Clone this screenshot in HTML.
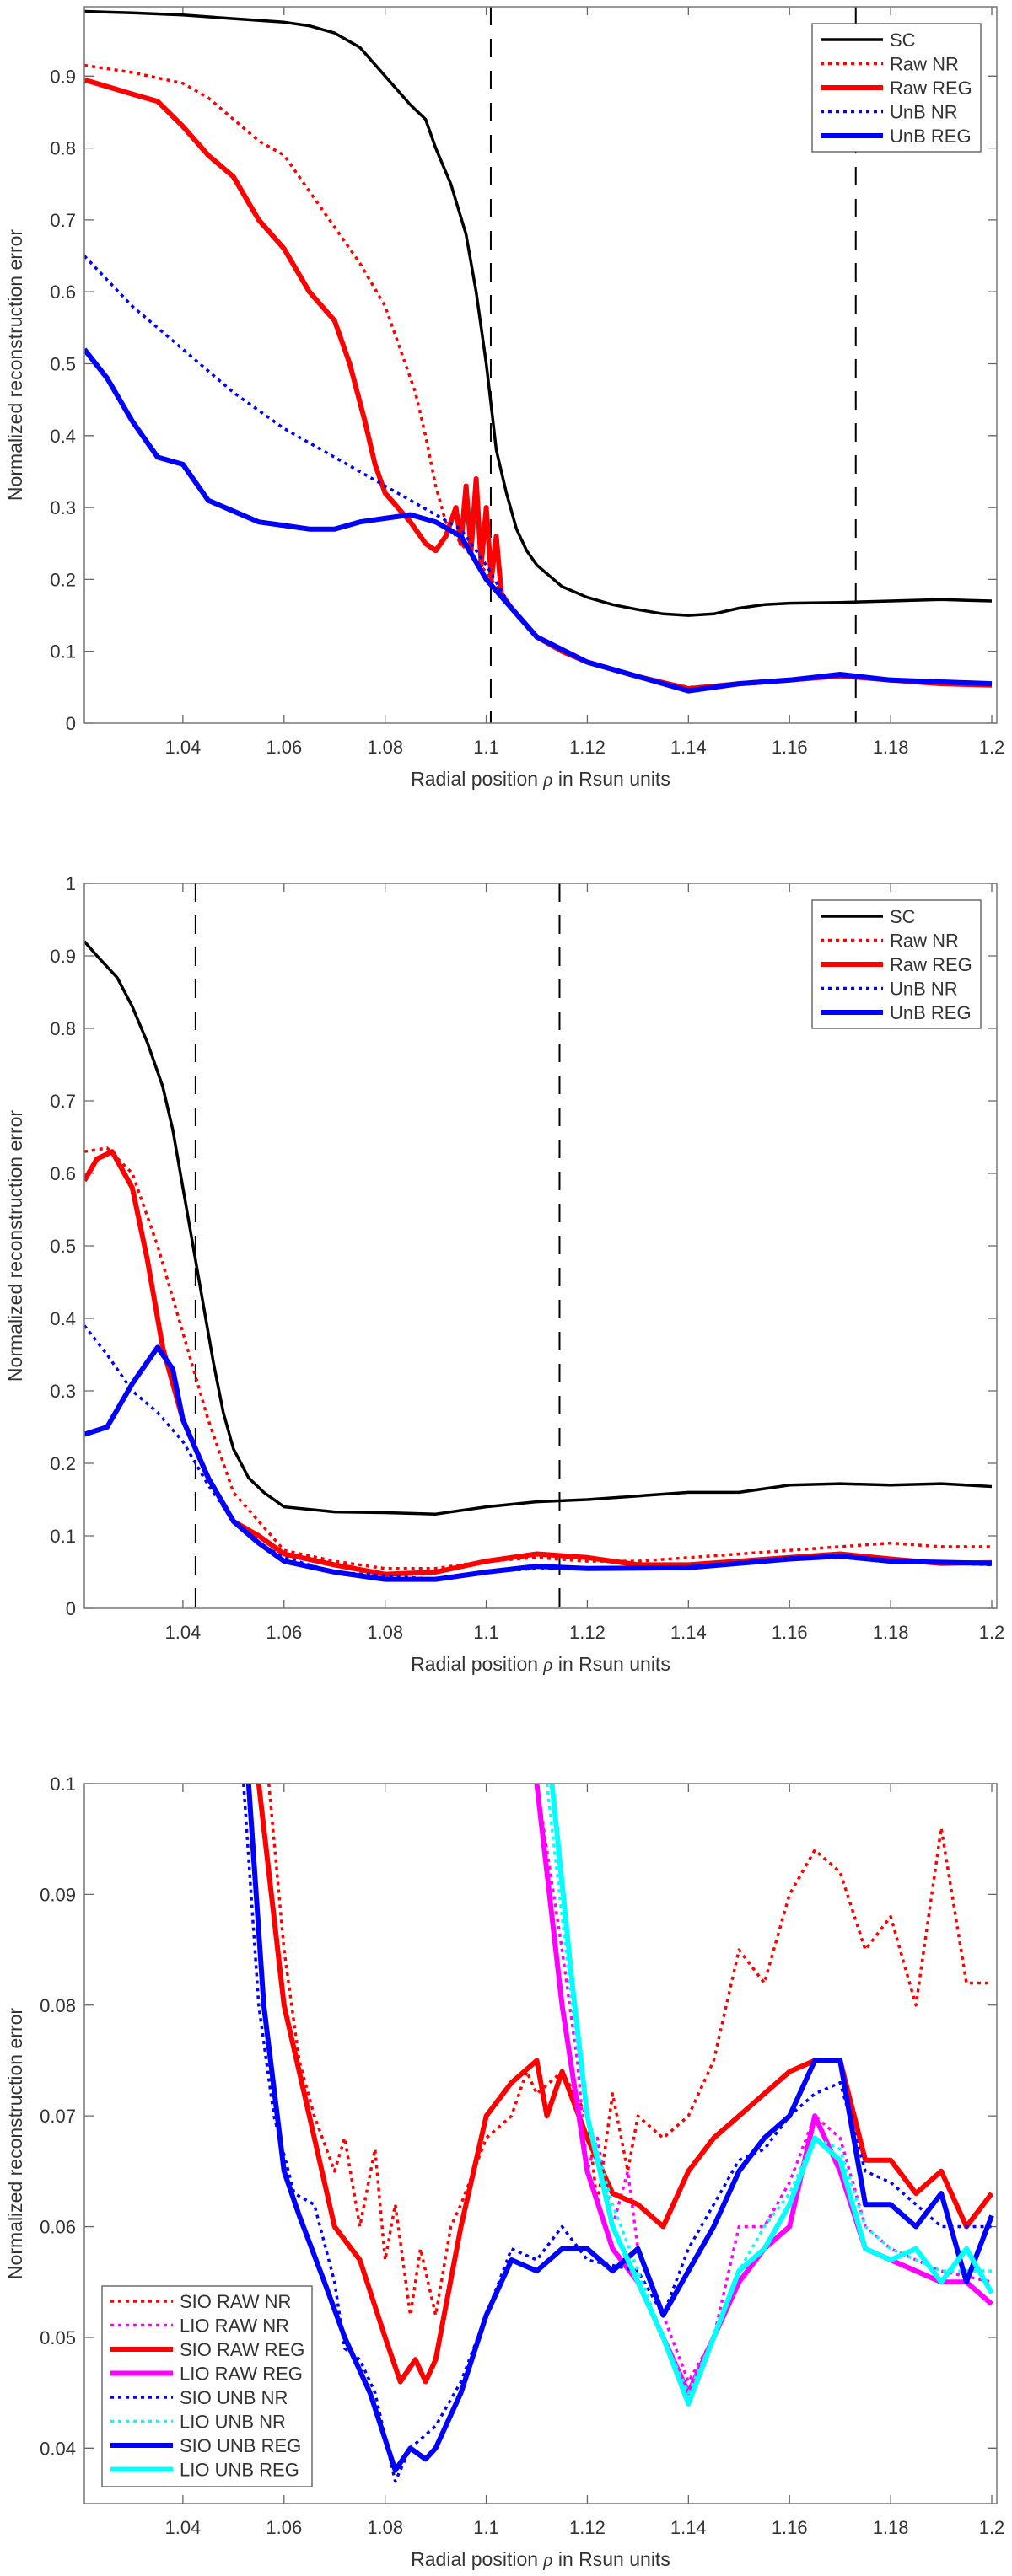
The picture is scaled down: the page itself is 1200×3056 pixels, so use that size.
<!DOCTYPE html>
<html><head><meta charset="utf-8">
<style>
html,body{margin:0;padding:0;background:#fff;}
svg{display:block;}
text{font-family:"Liberation Sans",Arial,sans-serif;fill:#333;}
</style></head>
<body>
<svg id="fig" width="1200" height="3056" viewBox="0 0 1200 3056" xmlns="http://www.w3.org/2000/svg"></svg>
<script>
// ---------- shared axis ----------
const xTicks = [1.04,1.06,1.08,1.1,1.12,1.14,1.16,1.18,1.2];
const xTickLabels = ["1.04","1.06","1.08","1.1","1.12","1.14","1.16","1.18","1.2"];
const xMin = 1.0205, xMax = 1.201;

// ---------- panel 1 data ----------
const p1Yticks = [0,0.1,0.2,0.3,0.4,0.5,0.6,0.7,0.8,0.9];
const p1Ylabels = ["0","0.1","0.2","0.3","0.4","0.5","0.6","0.7","0.8","0.9"];
const p1Vlines = [1.1009, 1.1731];
const p1_sc_x = [1.0205,1.03,1.04,1.05,1.06,1.065,1.07,1.075,1.08,1.085,1.088,1.09,1.093,1.096,1.098,1.1,1.101,1.102,1.104,1.106,1.108,1.11,1.115,1.12,1.125,1.13,1.135,1.14,1.145,1.15,1.155,1.16,1.17,1.18,1.19,1.2];
const p1_sc_y = [0.99,0.988,0.985,0.98,0.975,0.97,0.96,0.94,0.9,0.86,0.84,0.8,0.75,0.68,0.6,0.5,0.44,0.38,0.32,0.27,0.24,0.22,0.19,0.175,0.165,0.158,0.152,0.15,0.152,0.16,0.165,0.167,0.168,0.17,0.172,0.17];
const p1_rawnr_x = [1.0205,1.03,1.04,1.045,1.05,1.055,1.06,1.065,1.07,1.075,1.08,1.083,1.086,1.088,1.09,1.092,1.095,1.1,1.103,1.106,1.11,1.115,1.12,1.13,1.14,1.15,1.16,1.17,1.18,1.19,1.2];
const p1_rawnr_y = [0.915,0.905,0.89,0.87,0.84,0.81,0.79,0.74,0.69,0.64,0.58,0.52,0.46,0.4,0.33,0.28,0.25,0.21,0.18,0.15,0.12,0.1,0.085,0.065,0.05,0.055,0.06,0.066,0.06,0.055,0.052];
const p1_rawreg_x = [1.0205,1.03,1.035,1.04,1.045,1.05,1.055,1.06,1.065,1.07,1.073,1.076,1.078,1.08,1.085,1.088,1.09,1.092,1.094,1.095,1.096,1.097,1.098,1.099,1.1,1.101,1.102,1.103,1.105,1.11,1.115,1.12,1.13,1.14,1.15,1.16,1.17,1.18,1.19,1.2];
const p1_rawreg_y = [0.895,0.875,0.865,0.83,0.79,0.76,0.7,0.66,0.6,0.56,0.5,0.42,0.36,0.32,0.28,0.25,0.24,0.26,0.3,0.25,0.33,0.24,0.34,0.22,0.3,0.2,0.26,0.18,0.16,0.12,0.1,0.085,0.065,0.048,0.055,0.06,0.066,0.06,0.055,0.053];
const p1_unbnr_x = [1.0205,1.03,1.04,1.05,1.06,1.07,1.08,1.09,1.095,1.1,1.105,1.11,1.12,1.13,1.14,1.15,1.16,1.17,1.18,1.2];
const p1_unbnr_y = [0.65,0.58,0.52,0.46,0.41,0.37,0.33,0.29,0.27,0.22,0.16,0.12,0.085,0.065,0.046,0.055,0.06,0.066,0.06,0.055];
const p1_unbreg_x = [1.0205,1.025,1.03,1.035,1.04,1.045,1.05,1.055,1.06,1.065,1.07,1.075,1.08,1.085,1.09,1.095,1.1,1.105,1.11,1.12,1.13,1.14,1.15,1.16,1.17,1.18,1.2];
const p1_unbreg_y = [0.52,0.48,0.42,0.37,0.36,0.31,0.295,0.28,0.275,0.27,0.27,0.28,0.285,0.29,0.28,0.26,0.2,0.16,0.12,0.085,0.065,0.045,0.055,0.06,0.068,0.06,0.055];

// ---------- panel 2 data ----------
const p2Yticks = [0,0.1,0.2,0.3,0.4,0.5,0.6,0.7,0.8,0.9,1];
const p2Ylabels = ["0","0.1","0.2","0.3","0.4","0.5","0.6","0.7","0.8","0.9","1"];
const p2Vlines = [1.0425, 1.1145];
const p2_sc_x = [1.0205,1.023,1.027,1.03,1.033,1.036,1.038,1.04,1.042,1.044,1.046,1.048,1.05,1.053,1.056,1.06,1.07,1.08,1.09,1.1,1.11,1.12,1.13,1.14,1.15,1.16,1.17,1.18,1.19,1.2];
const p2_sc_y = [0.92,0.9,0.87,0.83,0.78,0.72,0.66,0.58,0.5,0.42,0.34,0.27,0.22,0.18,0.16,0.14,0.133,0.132,0.13,0.14,0.147,0.15,0.155,0.16,0.16,0.17,0.172,0.17,0.172,0.168];
const p2_rawnr_x = [1.0205,1.025,1.03,1.035,1.04,1.045,1.05,1.055,1.06,1.07,1.08,1.09,1.1,1.11,1.12,1.13,1.14,1.15,1.16,1.17,1.18,1.19,1.2];
const p2_rawnr_y = [0.63,0.635,0.6,0.5,0.38,0.26,0.16,0.12,0.08,0.065,0.055,0.055,0.065,0.07,0.065,0.065,0.07,0.075,0.08,0.085,0.09,0.085,0.085];
const p2_rawreg_x = [1.0205,1.023,1.026,1.03,1.033,1.036,1.04,1.045,1.05,1.055,1.06,1.07,1.08,1.09,1.1,1.11,1.12,1.13,1.14,1.15,1.16,1.17,1.18,1.19,1.2];
const p2_rawreg_y = [0.59,0.62,0.63,0.58,0.48,0.36,0.26,0.18,0.12,0.1,0.075,0.06,0.047,0.05,0.065,0.075,0.07,0.06,0.06,0.065,0.07,0.075,0.068,0.062,0.063];
const p2_unbnr_x = [1.0205,1.025,1.03,1.035,1.04,1.045,1.05,1.055,1.06,1.07,1.08,1.09,1.1,1.11,1.12,1.14,1.16,1.17,1.18,1.2];
const p2_unbnr_y = [0.39,0.35,0.3,0.27,0.23,0.17,0.12,0.09,0.07,0.05,0.045,0.04,0.05,0.055,0.055,0.055,0.07,0.072,0.065,0.06];
const p2_unbreg_x = [1.0205,1.025,1.03,1.035,1.038,1.04,1.045,1.05,1.055,1.06,1.07,1.08,1.09,1.1,1.11,1.12,1.14,1.16,1.17,1.18,1.2];
const p2_unbreg_y = [0.24,0.25,0.31,0.36,0.33,0.26,0.18,0.12,0.09,0.065,0.05,0.04,0.04,0.05,0.058,0.055,0.056,0.068,0.072,0.065,0.062];

// ---------- panel 3 data ----------
const p3Yticks = [0.04,0.05,0.06,0.07,0.08,0.09,0.1];
const p3Ylabels = ["0.04","0.05","0.06","0.07","0.08","0.09","0.1"];
const p3_sioRawNr_x = [1.057,1.06,1.063,1.066,1.07,1.072,1.075,1.078,1.08,1.082,1.085,1.087,1.09,1.093,1.095,1.1,1.105,1.108,1.11,1.115,1.12,1.122,1.125,1.128,1.13,1.135,1.14,1.145,1.15,1.155,1.16,1.165,1.17,1.175,1.18,1.185,1.19,1.195,1.2];
const p3_sioRawNr_y = [0.1,0.085,0.075,0.07,0.065,0.068,0.06,0.067,0.057,0.062,0.052,0.058,0.052,0.06,0.062,0.068,0.07,0.074,0.072,0.074,0.07,0.062,0.072,0.065,0.07,0.068,0.07,0.075,0.085,0.082,0.09,0.094,0.092,0.085,0.088,0.08,0.096,0.082,0.082];
const p3_lioRawNr_x = [1.11,1.115,1.118,1.12,1.122,1.125,1.128,1.13,1.135,1.14,1.145,1.15,1.155,1.16,1.165,1.17,1.175,1.18,1.185,1.19,1.2];
const p3_lioRawNr_y = [0.1,0.085,0.075,0.065,0.068,0.06,0.065,0.058,0.052,0.046,0.05,0.06,0.06,0.064,0.07,0.068,0.06,0.058,0.057,0.056,0.055];
const p3_sioRawReg_x = [1.055,1.06,1.065,1.07,1.075,1.08,1.083,1.086,1.088,1.09,1.095,1.1,1.105,1.11,1.112,1.115,1.12,1.125,1.13,1.135,1.14,1.145,1.15,1.155,1.16,1.165,1.17,1.175,1.18,1.185,1.19,1.195,1.2];
const p3_sioRawReg_y = [0.1,0.08,0.07,0.06,0.057,0.05,0.046,0.048,0.046,0.048,0.06,0.07,0.073,0.075,0.07,0.074,0.068,0.063,0.062,0.06,0.065,0.068,0.07,0.072,0.074,0.075,0.075,0.066,0.066,0.063,0.065,0.06,0.063];
const p3_lioRawReg_x = [1.11,1.115,1.12,1.125,1.13,1.135,1.14,1.145,1.15,1.155,1.16,1.165,1.17,1.175,1.18,1.185,1.19,1.195,1.2];
const p3_lioRawReg_y = [0.1,0.08,0.065,0.058,0.055,0.05,0.045,0.05,0.055,0.058,0.06,0.07,0.065,0.058,0.057,0.056,0.055,0.055,0.053];
const p3_sioUnbNr_x = [1.052,1.055,1.058,1.062,1.066,1.07,1.072,1.075,1.078,1.082,1.085,1.09,1.095,1.1,1.105,1.11,1.115,1.12,1.13,1.135,1.14,1.145,1.15,1.155,1.16,1.165,1.17,1.175,1.18,1.19,1.2];
const p3_sioUnbNr_y = [0.1,0.08,0.07,0.063,0.062,0.055,0.049,0.048,0.045,0.037,0.04,0.042,0.046,0.052,0.058,0.057,0.06,0.057,0.056,0.052,0.058,0.062,0.066,0.067,0.07,0.072,0.073,0.065,0.064,0.06,0.06];
const p3_lioUnbNr_x = [1.112,1.117,1.12,1.125,1.13,1.135,1.14,1.145,1.15,1.155,1.16,1.165,1.17,1.175,1.18,1.19,1.2];
const p3_lioUnbNr_y = [0.1,0.08,0.07,0.062,0.056,0.05,0.045,0.05,0.056,0.06,0.063,0.068,0.067,0.06,0.058,0.056,0.056];
const p3_sioUnbReg_x = [1.053,1.056,1.06,1.063,1.068,1.072,1.077,1.082,1.085,1.088,1.09,1.095,1.1,1.105,1.11,1.115,1.12,1.125,1.13,1.135,1.14,1.145,1.15,1.155,1.16,1.165,1.17,1.175,1.18,1.185,1.19,1.195,1.2];
const p3_sioUnbReg_y = [0.1,0.08,0.065,0.061,0.055,0.05,0.045,0.038,0.04,0.039,0.04,0.045,0.052,0.057,0.056,0.058,0.058,0.056,0.058,0.052,0.056,0.06,0.065,0.068,0.07,0.075,0.075,0.062,0.062,0.06,0.063,0.055,0.061];
const p3_lioUnbReg_x = [1.113,1.117,1.12,1.125,1.13,1.135,1.14,1.145,1.15,1.155,1.16,1.165,1.17,1.175,1.18,1.185,1.19,1.195,1.2];
const p3_lioUnbReg_y = [0.1,0.082,0.07,0.06,0.055,0.05,0.044,0.05,0.056,0.058,0.062,0.068,0.066,0.058,0.057,0.058,0.055,0.058,0.054];

// ---------- drawing ----------
const NS = "http://www.w3.org/2000/svg";
const svg = document.getElementById("fig");
const L = 100, R = 1182;
const DOT = "4 5";
function mk(tag, attrs, parent){
  const e = document.createElementNS(NS, tag);
  for (const k in attrs) e.setAttribute(k, attrs[k]);
  (parent||svg).appendChild(e);
  return e;
}
function sx(v){ return L + (v - xMin) / (xMax - xMin) * (R - L); }

function panel(id, top, bottom, yMin, yMax, yTicks, yLabels, vlines, series, legend){
  const g = mk("g", {});
  
  
  const sy = v => bottom - (v - yMin) / (yMax - yMin) * (bottom - top);
  const clipId = id + "-clip";
  const cp = mk("clipPath", {id: clipId}, g);
  mk("rect", {x: L, y: top, width: R - L, height: bottom - top}, cp);
  xTicks.forEach((t, i) => {
    const x = sx(t);
    const tk = mk("path", {d: `M${x},${bottom}v-10M${x},${top}v10`, stroke: "#666", "stroke-width": 1.3}, g);
    
    
    const lb = mk("text", {x: x, y: bottom + 36, "text-anchor": "middle", "font-size": 22}, g);
    lb.textContent = xTickLabels[i];
    
    
  });
  yTicks.forEach((t, i) => {
    const y = sy(t);
    const tk = mk("path", {d: `M${L},${y}h11M${R},${y}h-11`, stroke: "#666", "stroke-width": 1.3}, g);
    
    
    const lb = mk("text", {x: 90, y: y + 8, "text-anchor": "end", "font-size": 22}, g);
    lb.textContent = yLabels[i];
    
    
  });
  vlines.forEach(v => {
    const vl = mk("line", {x1: sx(v), x2: sx(v), y1: top, y2: bottom, stroke: "#000", "stroke-width": 2, "stroke-dasharray": "22 16"}, g);
    
    
  });
  const sg = mk("g", {"clip-path": `url(#${clipId})`}, g);
  series.forEach(s => {
    const d = s.x.map((v, i) => (i ? "L" : "M") + sx(v).toFixed(1) + "," + sy(s.y[i]).toFixed(1)).join("");
    const attrs = {d: d, fill: "none", stroke: s.c, "stroke-width": s.w, "stroke-linejoin": "round"};
    if (s.dot) attrs["stroke-dasharray"] = DOT;
    const p = mk("path", attrs, sg);
    
    
  });
  const fr = mk("rect", {x: L, y: top, width: R - L, height: bottom - top, fill: "none", stroke: "#777", "stroke-width": 1.5}, g);
  
  
  const xt = mk("text", {x: (L + R) / 2, y: bottom + 74, "text-anchor": "middle", "font-size": 23}, g);
  xt.innerHTML = 'Radial position <tspan font-family="Liberation Serif" font-style="italic">ρ</tspan> in Rsun units';
  
  
  const cy = (top + bottom) / 2;
  const yt = mk("text", {x: 26, y: cy, "text-anchor": "middle", "font-size": 23, transform: `rotate(-90 26 ${cy})`}, g);
  yt.textContent = "Normalized reconstruction error";
  
  
  const lg = mk("g", {}, g);
  
  
  mk("rect", {x: legend.x, y: legend.y, width: legend.w, height: legend.h, fill: "#fff", stroke: "#555", "stroke-width": 1.3}, lg);
  series.forEach((s, i) => {
    const y = legend.y + legend.first + i * legend.step;
    const la = {x1: legend.x + 10, x2: legend.x + 84, y1: y, y2: y, stroke: s.c, "stroke-width": s.w};
    if (s.dot) la["stroke-dasharray"] = DOT;
    const ln = mk("line", la, lg);
    
    
    const t = mk("text", {x: legend.x + 92, y: y + 8, "font-size": 22, fill: "#222"}, lg);
    t.textContent = s.label;
    
    
  });
}

panel("panel-1", 8, 858, 0, 0.9965, p1Yticks, p1Ylabels, p1Vlines, [
  {n:"sc-line", label:"SC", x:p1_sc_x, y:p1_sc_y, c:"#000", w:3.5},
  {n:"raw-nr-line", label:"Raw NR", x:p1_rawnr_x, y:p1_rawnr_y, c:"#f00", w:3.5, dot:true},
  {n:"raw-reg-line", label:"Raw REG", x:p1_rawreg_x, y:p1_rawreg_y, c:"#f00", w:6},
  {n:"unb-nr-line", label:"UnB NR", x:p1_unbnr_x, y:p1_unbnr_y, c:"#00f", w:3.5, dot:true},
  {n:"unb-reg-line", label:"UnB REG", x:p1_unbreg_x, y:p1_unbreg_y, c:"#00f", w:6}
], {x:963, y:28, w:200, h:152, first:19, step:28.5});

panel("panel-2", 1048, 1908, 0, 1, p2Yticks, p2Ylabels, p2Vlines, [
  {n:"sc-line", label:"SC", x:p2_sc_x, y:p2_sc_y, c:"#000", w:3.5},
  {n:"raw-nr-line", label:"Raw NR", x:p2_rawnr_x, y:p2_rawnr_y, c:"#f00", w:3.5, dot:true},
  {n:"raw-reg-line", label:"Raw REG", x:p2_rawreg_x, y:p2_rawreg_y, c:"#f00", w:6},
  {n:"unb-nr-line", label:"UnB NR", x:p2_unbnr_x, y:p2_unbnr_y, c:"#00f", w:3.5, dot:true},
  {n:"unb-reg-line", label:"UnB REG", x:p2_unbreg_x, y:p2_unbreg_y, c:"#00f", w:6}
], {x:963, y:1068, w:200, h:152, first:19, step:28.5});

panel("panel-3", 2116, 2970, 0.035, 0.1, p3Yticks, p3Ylabels, [], [
  {n:"sio-raw-nr-line", label:"SIO RAW NR", x:p3_sioRawNr_x, y:p3_sioRawNr_y, c:"#f00", w:3.5, dot:true},
  {n:"lio-raw-nr-line", label:"LIO RAW NR", x:p3_lioRawNr_x, y:p3_lioRawNr_y, c:"#f0f", w:3.5, dot:true},
  {n:"sio-raw-reg-line", label:"SIO RAW REG", x:p3_sioRawReg_x, y:p3_sioRawReg_y, c:"#f00", w:6},
  {n:"lio-raw-reg-line", label:"LIO RAW REG", x:p3_lioRawReg_x, y:p3_lioRawReg_y, c:"#f0f", w:6},
  {n:"sio-unb-nr-line", label:"SIO UNB NR", x:p3_sioUnbNr_x, y:p3_sioUnbNr_y, c:"#00f", w:3.5, dot:true},
  {n:"lio-unb-nr-line", label:"LIO UNB NR", x:p3_lioUnbNr_x, y:p3_lioUnbNr_y, c:"#0ff", w:3.5, dot:true},
  {n:"sio-unb-reg-line", label:"SIO UNB REG", x:p3_sioUnbReg_x, y:p3_sioUnbReg_y, c:"#00f", w:6},
  {n:"lio-unb-reg-line", label:"LIO UNB REG", x:p3_lioUnbReg_x, y:p3_lioUnbReg_y, c:"#0ff", w:6}
], {x:121, y:2712, w:249, h:238, first:18, step:28.5});
</script>
</body></html>
